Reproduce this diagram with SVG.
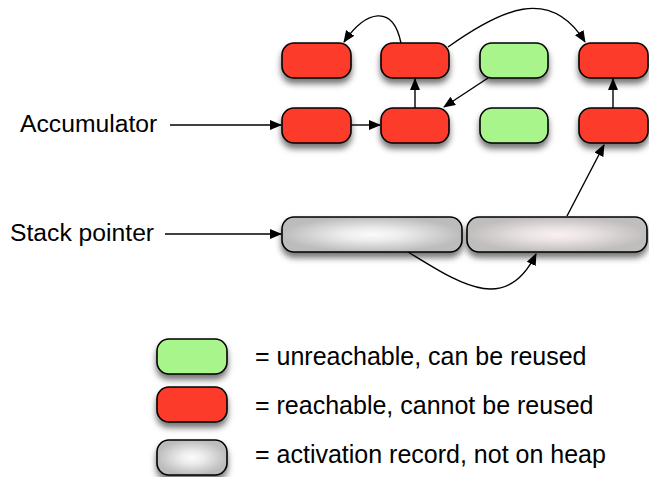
<svg xmlns="http://www.w3.org/2000/svg" width="649" height="477" viewBox="0 0 649 477">
<defs>
<style>
.lbl{font-family:"Liberation Sans",Arial,sans-serif;font-size:24.7px;fill:#000}
.leg{font-family:"Liberation Sans",Arial,sans-serif;font-size:25px;fill:#000}
.red{fill:#fd3a29;stroke:#000;stroke-width:1.6}
.green{fill:#a8f68b;stroke:#000;stroke-width:1.6}
.gray{fill:url(#gg);stroke:#000;stroke-width:1.6}
.pink{fill:url(#gp);stroke:#000;stroke-width:1.6}
.node{filter:url(#sh)}
.conn{fill:none;stroke:#000;stroke-width:1.4;marker-end:url(#ah)}
</style>
<radialGradient id="gg" cx="0.5" cy="0.5" r="0.5">
<stop offset="0" stop-color="#fbfbfb"/>
<stop offset="0.35" stop-color="#ececec"/>
<stop offset="1" stop-color="#bcbcbc"/>
</radialGradient>
<radialGradient id="gp" cx="0.5" cy="0.5" r="0.5">
<stop offset="0" stop-color="#fbefef"/>
<stop offset="0.35" stop-color="#ebe4e4"/>
<stop offset="1" stop-color="#c0bdbd"/>
</radialGradient>
<filter id="sh" x="-20%" y="-30%" width="140%" height="180%">
<feDropShadow dx="0" dy="5" stdDeviation="3" flood-color="#000" flood-opacity="0.55"/>
</filter>
<marker id="ah" markerWidth="12" markerHeight="10" refX="11" refY="5" orient="auto" markerUnits="userSpaceOnUse">
<path d="M0,0 L12,5 L0,10 Z" fill="#000"/>
</marker>
</defs>

<g id="label-accumulator"><text class="lbl" x="20" y="132">Accumulator</text></g>
<g id="label-stack"><text class="lbl" x="10" y="241">Stack pointer</text></g>

<g id="n-r1c1" class="node"><rect class="red" x="282" y="43" width="69" height="35" rx="12"/></g>
<g id="n-r1c2" class="node"><rect class="red" x="381" y="43" width="68" height="35" rx="12"/></g>
<g id="n-r1c3" class="node"><rect class="green" x="480" y="43" width="68" height="35" rx="12"/></g>
<g id="n-r1c4" class="node"><rect class="red" x="579" y="43" width="69" height="35" rx="12"/></g>

<g id="n-r2c1" class="node"><rect class="red" x="282" y="108" width="69" height="35" rx="12"/></g>
<g id="n-r2c2" class="node"><rect class="red" x="381" y="108" width="68" height="35" rx="12"/></g>
<g id="n-r2c3" class="node"><rect class="green" x="480" y="108" width="68" height="35" rx="12"/></g>
<g id="n-r2c4" class="node"><rect class="red" x="579" y="108" width="69" height="35" rx="12"/></g>

<g id="n-stackA" class="node"><rect class="gray" x="282" y="217" width="180" height="35" rx="12"/></g>
<g id="n-stackB" class="node"><rect class="pink" x="467" y="217" width="180" height="35" rx="12"/></g>

<g id="legend-green" class="node"><rect class="green" x="157" y="339" width="70" height="35" rx="12"/></g>
<g id="legend-red" class="node"><rect class="red" x="157" y="387" width="70" height="35" rx="12"/></g>
<g id="legend-gray" class="node"><rect class="gray" x="157" y="440" width="70" height="35" rx="12"/></g>

<g id="legend-text">
<text class="leg" x="255" y="365">= unreachable, can be reused</text>
<text class="leg" x="255" y="414">= reachable, cannot be reused</text>
<text class="leg" x="255" y="463">= activation record, not on heap</text>
</g>

<g id="connectors">
<path class="conn" d="M170,125 L281,125"/>
<path class="conn" d="M165,234 L281,234"/>
<path class="conn" d="M351,125 L380,125"/>
<path class="conn" d="M415,108 L415,79"/>
<path class="conn" d="M613,108 L613,79"/>
<path class="conn" d="M488,78 L444,107"/>
<path class="conn" d="M401,43 C393,4 366,10 344,42"/>
<path class="conn" d="M448,47 C500,10 550,-15 585,42"/>
<path class="conn" d="M567,216 L604,145"/>
<path class="conn" d="M408,252 C455,280 505,318 536,254"/>
</g>
</svg>
